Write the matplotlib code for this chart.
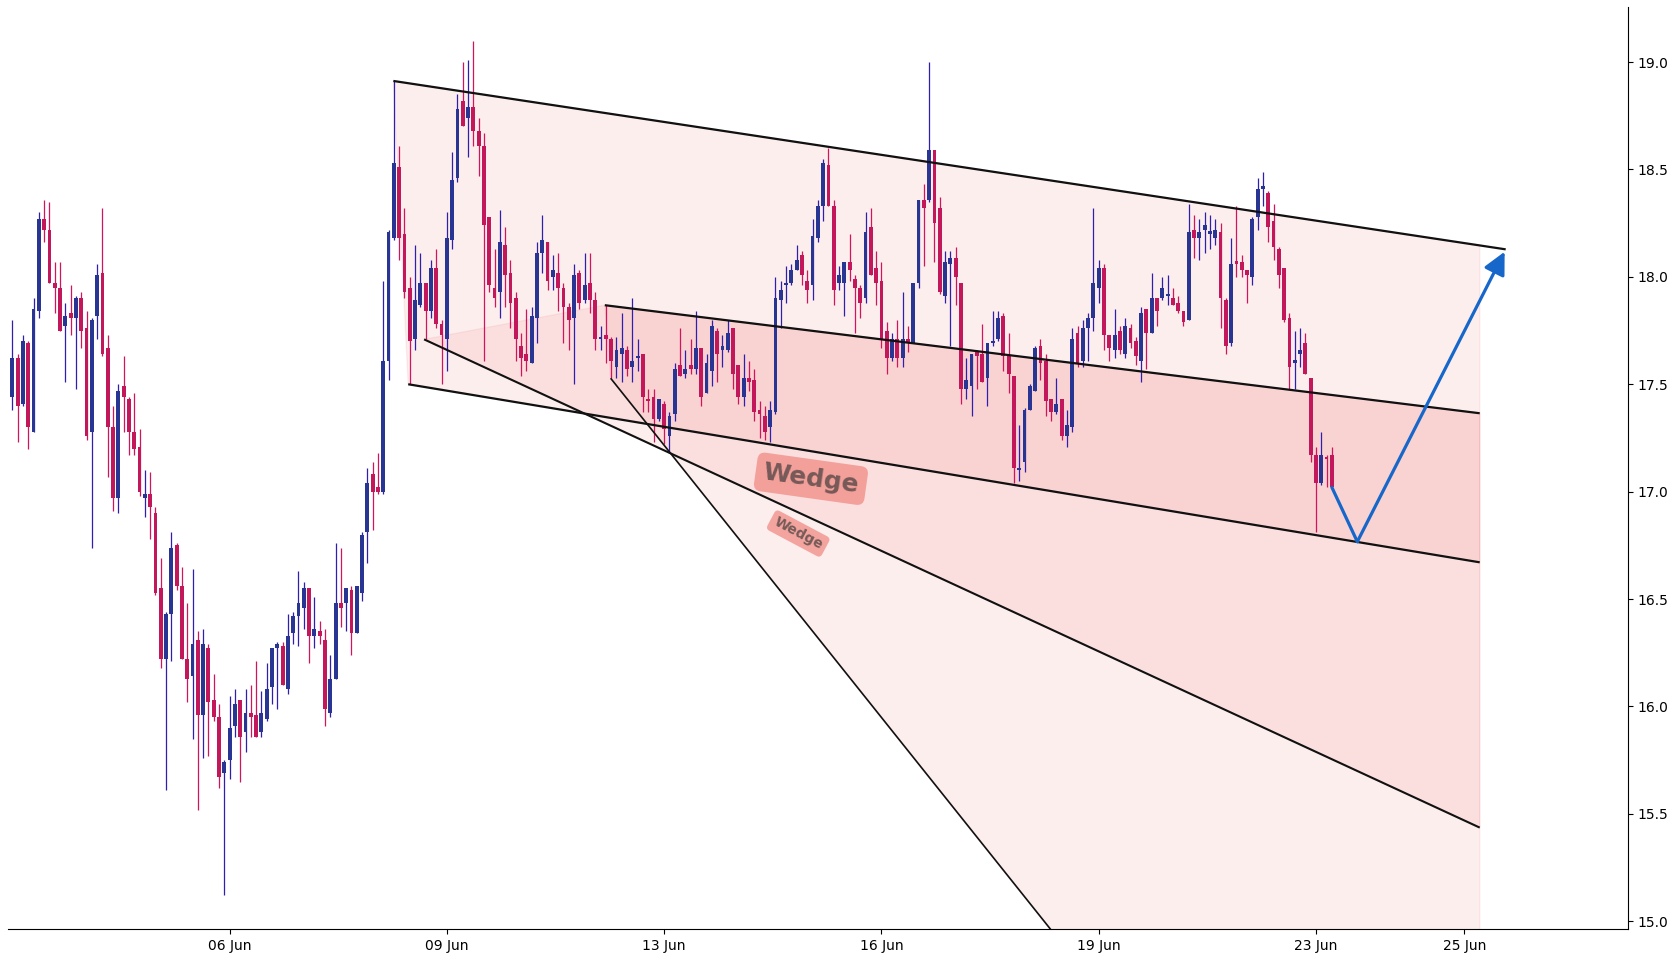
import matplotlib
matplotlib.use('Agg')
from matplotlib import pyplot as plt
from matplotlib.patches import Polygon

# OHLC, one entry per bar (250 bars)
opens = [17.44, 17.62, 17.41, 17.69, 17.28, 17.84, 18.27, 18.22, 17.97, 17.95,
         17.77, 17.83, 17.81, 17.90, 17.76, 17.28, 17.82, 18.02, 17.67, 17.30,
         16.97, 17.49, 17.43, 17.28, 17.21, 16.97, 16.99, 16.90, 16.55, 16.22,
         16.43, 16.75, 16.56, 16.22, 16.14, 16.31, 15.96, 16.27, 16.03, 15.95,
         15.69, 15.75, 15.91, 16.03, 15.88, 15.97, 15.96, 15.88, 15.94, 16.09,
         16.27, 16.28, 16.08, 16.34, 16.42, 16.46, 16.55, 16.33, 16.35, 16.31,
         15.97, 16.13, 16.48, 16.48, 16.54, 16.34, 16.53, 16.81, 17.08, 17.02,
         17.00, 17.61, 18.18, 18.51, 18.20, 17.95, 17.71, 17.87, 17.97, 17.84,
         18.04, 17.78, 17.71, 18.17, 18.46, 18.82, 18.74, 18.79, 18.68, 18.61,
         18.28, 17.95, 17.93, 18.15, 18.02, 17.90, 17.68, 17.64, 17.60, 17.81,
         18.11, 18.16, 18.00, 18.02, 17.95, 17.86, 17.81, 18.02, 17.89, 17.97,
         17.89, 17.71, 17.73, 17.71, 17.58, 17.64, 17.66, 17.58, 17.62, 17.64,
         17.43, 17.44, 17.34, 17.41, 17.26, 17.36, 17.59, 17.55, 17.59, 17.57,
         17.67, 17.46, 17.56, 17.75, 17.66, 17.66, 17.76, 17.59, 17.44, 17.53,
         17.52, 17.38, 17.35, 17.30, 17.37, 17.89, 17.96, 17.97, 18.03, 18.10,
         17.98, 17.96, 18.18, 18.33, 18.52, 18.33, 17.97, 17.97, 18.07, 17.99,
         17.95, 17.90, 18.23, 18.04, 17.98, 17.75, 17.62, 17.71, 17.62, 17.71,
         17.69, 17.97, 18.36, 18.36, 18.59, 18.32, 17.91, 18.06, 18.09, 17.97,
         17.48, 17.49, 17.65, 17.64, 17.53, 17.69, 17.71, 17.82, 17.63, 17.54,
         17.10, 17.14, 17.38, 17.47, 17.68, 17.61, 17.43, 17.37, 17.43, 17.26,
         17.30, 17.74, 17.61, 17.76, 17.81, 17.95, 18.04, 17.73, 17.66, 17.75,
         17.64, 17.76, 17.70, 17.61, 17.85, 17.74, 17.90, 17.90, 17.91, 17.90,
         17.88, 17.84, 17.80, 18.22, 18.18, 18.22, 18.20, 18.18, 18.21, 17.89,
         17.69, 18.07, 18.07, 18.03, 18.00, 18.28, 18.41, 18.39, 18.26, 18.13,
         18.04, 17.81, 17.60, 17.64, 17.69, 17.53, 17.17, 17.04, 17.16, 17.17]
highs = [17.80, 17.64, 17.73, 17.70, 17.90, 18.30, 18.36, 18.35, 18.07, 18.07,
         17.88, 17.96, 17.91, 17.93, 17.84, 17.81, 18.06, 18.32, 17.73, 17.40,
         17.50, 17.63, 17.44, 17.46, 17.29, 17.10, 17.09, 16.93, 16.69, 16.44,
         16.81, 16.76, 16.65, 16.48, 16.64, 16.35, 16.36, 16.29, 16.15, 16.01,
         15.75, 16.05, 16.08, 16.03, 16.08, 16.10, 16.21, 16.07, 16.20, 16.27,
         16.30, 16.30, 16.43, 16.44, 16.63, 16.58, 16.55, 16.51, 16.40, 16.36,
         16.24, 16.76, 16.74, 16.55, 16.56, 16.56, 16.81, 17.11, 17.14, 17.18,
         17.98, 18.22, 18.91, 18.61, 18.32, 18.00, 18.15, 18.11, 17.97, 18.08,
         18.13, 17.80, 18.30, 18.58, 18.85, 19.00, 19.01, 19.10, 18.74, 18.67,
         18.28, 18.13, 18.31, 18.23, 18.08, 17.93, 17.74, 17.85, 17.86, 18.16,
         18.29, 18.16, 18.10, 18.11, 17.97, 17.88, 18.06, 18.03, 18.11, 18.11,
         17.93, 17.77, 17.87, 17.72, 17.72, 17.83, 17.68, 17.90, 17.71, 17.64,
         17.48, 17.48, 17.43, 17.42, 17.37, 17.60, 17.76, 17.66, 17.71, 17.84,
         17.67, 17.64, 17.80, 17.76, 17.73, 17.80, 17.76, 17.59, 17.64, 17.61,
         17.57, 17.42, 17.40, 17.42, 18.00, 17.98, 18.05, 18.06, 18.15, 18.12,
         18.03, 18.27, 18.36, 18.55, 18.60, 18.36, 18.05, 18.07, 18.20, 18.01,
         17.96, 18.30, 18.32, 18.12, 18.07, 17.79, 17.74, 17.80, 17.93, 17.77,
         17.97, 18.36, 18.43, 19.00, 18.59, 18.37, 18.12, 18.12, 18.14, 17.97,
         17.62, 17.64, 17.66, 17.78, 17.69, 17.84, 17.84, 17.83, 17.74, 17.54,
         17.31, 17.39, 17.50, 17.68, 17.71, 17.64, 17.43, 17.53, 17.43, 17.38,
         17.76, 17.77, 17.80, 17.83, 18.32, 18.08, 18.06, 17.73, 17.85, 17.77,
         17.81, 17.78, 17.72, 17.86, 17.85, 18.02, 17.90, 18.00, 18.01, 17.95,
         17.91, 17.84, 18.34, 18.29, 18.27, 18.30, 18.29, 18.27, 18.25, 17.90,
         18.18, 18.33, 18.10, 18.03, 18.28, 18.46, 18.49, 18.40, 18.34, 18.14,
         18.04, 17.83, 17.75, 17.76, 17.74, 17.53, 17.21, 17.28, 17.17, 17.21]
lows = [17.38, 17.23, 17.40, 17.20, 17.28, 17.81, 18.16, 17.97, 17.83, 17.75,
        17.51, 17.73, 17.48, 17.67, 17.24, 16.74, 17.71, 17.63, 17.07, 16.91,
        16.90, 17.28, 17.17, 17.17, 16.98, 16.88, 16.78, 16.52, 16.18, 15.61,
        16.21, 16.54, 16.22, 16.02, 15.85, 15.52, 15.76, 15.77, 15.93, 15.62,
        15.12, 15.66, 15.86, 15.65, 15.79, 15.86, 15.86, 15.86, 15.93, 16.01,
        15.99, 16.10, 16.06, 16.29, 16.28, 16.36, 16.20, 16.27, 16.29, 15.91,
        15.95, 16.13, 16.37, 16.35, 16.24, 16.34, 16.49, 16.67, 16.82, 16.99,
        16.99, 17.52, 18.17, 18.08, 17.90, 17.50, 17.66, 17.86, 17.71, 17.81,
        17.76, 17.50, 17.56, 18.13, 18.44, 18.70, 18.56, 18.61, 18.47, 17.61,
        17.93, 17.86, 17.81, 17.86, 17.76, 17.61, 17.54, 17.56, 17.60, 17.69,
        18.02, 17.94, 17.94, 17.84, 17.69, 17.66, 17.50, 17.85, 17.88, 17.83,
        17.66, 17.66, 17.60, 17.53, 17.53, 17.51, 17.54, 17.51, 17.56, 17.37,
        17.37, 17.23, 17.33, 17.22, 17.18, 17.33, 17.54, 17.53, 17.55, 17.55,
        17.40, 17.46, 17.49, 17.51, 17.58, 17.65, 17.48, 17.41, 17.40, 17.47,
        17.33, 17.25, 17.24, 17.23, 17.36, 17.76, 17.88, 17.96, 18.03, 17.96,
        17.88, 17.89, 18.16, 18.26, 18.33, 17.87, 17.94, 17.82, 17.98, 17.74,
        17.81, 17.88, 18.01, 17.87, 17.67, 17.55, 17.61, 17.58, 17.58, 17.65,
        17.69, 17.95, 18.05, 18.35, 18.07, 17.92, 17.88, 17.68, 17.87, 17.41,
        17.43, 17.35, 17.48, 17.51, 17.40, 17.68, 17.70, 17.56, 17.46, 17.04,
        17.05, 17.09, 17.38, 17.47, 17.52, 17.35, 17.33, 17.36, 17.24, 17.21,
        17.28, 17.58, 17.58, 17.61, 17.75, 17.88, 17.66, 17.61, 17.62, 17.64,
        17.62, 17.67, 17.59, 17.51, 17.57, 17.74, 17.77, 17.89, 17.87, 17.87,
        17.83, 17.77, 17.80, 18.09, 18.08, 18.11, 18.13, 18.15, 17.76, 17.64,
        17.68, 18.00, 18.00, 17.88, 17.96, 18.22, 18.33, 18.16, 18.08, 17.95,
        17.79, 17.48, 17.48, 17.58, 17.55, 17.14, 16.81, 17.03, 17.02, 17.02]
closes = [17.62, 17.40, 17.70, 17.30, 17.85, 18.27, 18.22, 17.97, 17.95, 17.75,
          17.82, 17.81, 17.90, 17.75, 17.26, 17.80, 18.01, 17.64, 17.30, 16.97,
          17.47, 17.44, 17.28, 17.20, 17.00, 16.99, 16.93, 16.53, 16.22, 16.43,
          16.74, 16.56, 16.22, 16.13, 16.29, 15.96, 16.29, 16.02, 15.95, 15.67,
          15.74, 15.90, 16.01, 15.86, 15.97, 15.95, 15.86, 15.97, 16.08, 16.27,
          16.29, 16.10, 16.33, 16.42, 16.48, 16.55, 16.33, 16.36, 16.33, 15.99,
          16.13, 16.48, 16.46, 16.55, 16.34, 16.56, 16.80, 17.04, 17.00, 17.00,
          17.61, 18.21, 18.53, 18.18, 17.93, 17.70, 17.89, 17.97, 17.84, 18.04,
          17.78, 17.73, 18.18, 18.45, 18.78, 18.70, 18.79, 18.68, 18.61, 18.24,
          17.96, 17.90, 18.16, 18.01, 17.88, 17.71, 17.62, 17.61, 17.82, 18.11,
          18.17, 17.98, 18.03, 17.95, 17.86, 17.80, 18.01, 17.88, 17.96, 17.89,
          17.71, 17.72, 17.71, 17.61, 17.66, 17.67, 17.57, 17.61, 17.63, 17.44,
          17.42, 17.34, 17.43, 17.29, 17.35, 17.57, 17.54, 17.57, 17.57, 17.67,
          17.44, 17.60, 17.77, 17.64, 17.68, 17.74, 17.55, 17.44, 17.53, 17.51,
          17.37, 17.36, 17.28, 17.38, 17.90, 17.94, 17.97, 18.03, 18.08, 18.01,
          17.94, 18.19, 18.33, 18.53, 18.33, 17.94, 18.01, 18.07, 18.03, 17.95,
          17.88, 18.21, 18.01, 17.97, 17.71, 17.62, 17.71, 17.62, 17.71, 17.69,
          17.97, 18.36, 18.32, 18.59, 18.25, 17.93, 18.07, 18.09, 18.00, 17.48,
          17.52, 17.64, 17.63, 17.51, 17.69, 17.70, 17.81, 17.63, 17.55, 17.11,
          17.11, 17.38, 17.49, 17.67, 17.60, 17.42, 17.37, 17.41, 17.26, 17.31,
          17.71, 17.60, 17.76, 17.81, 17.97, 18.04, 17.73, 17.67, 17.73, 17.66,
          17.77, 17.69, 17.63, 17.83, 17.74, 17.90, 17.84, 17.95, 17.92, 17.87,
          17.84, 17.79, 18.21, 18.18, 18.21, 18.24, 18.21, 18.22, 17.90, 17.68,
          18.06, 18.06, 18.03, 18.01, 18.27, 18.41, 18.42, 18.23, 18.14, 18.01,
          17.80, 17.58, 17.61, 17.66, 17.55, 17.17, 17.04, 17.17, 17.15, 17.02]

tick_pos = [41, 82, 123, 164, 205, 246, 274]
tick_labels = ['06 Jun', '09 Jun', '13 Jun', '16 Jun', '19 Jun', '23 Jun', '25 Jun']

# drawn trend lines: (bar, price) endpoints
top_line = [(71.9, 18.912), (281.8, 18.128)]
low_line = [(74.7, 17.500), (276.9, 16.671)]
mid_line = [(111.8, 17.868), (276.9, 17.365)]
fan_line = [(77.7, 17.709), (276.9, 15.436)]
steep_line = [(112.9, 17.528), (276.9, 12.46)]
proj_path = [(249, 17.02), (253.8, 16.767), (281.6, 18.117)]

up_body, up_wick = '#283593', '#2e1fae'
dn_body, dn_wick = '#c2185b', '#d2145e'
fill_col = '#f07f7f'

fig = plt.figure(figsize=(16.8, 9.6), dpi=100)
ax = fig.add_axes([0.0045, 0.0323, 0.9643, 0.9599])

for i in range(len(opens)):
    o, h, l, c = opens[i], highs[i], lows[i], closes[i]
    up = c >= o
    ax.vlines(i, l, h, color=up_wick if up else dn_wick, lw=0.9, zorder=3)
    ax.bar(i, max(abs(c - o), 0.012), bottom=min(o, c), width=0.72,
           color=up_body if up else dn_body, zorder=4, linewidth=0)


def line_at(line, x):
    (x0, y0), (x1, y1) = line
    return y0 + (y1 - y0) * (x - x0) / (x1 - x0)


x_end = low_line[1][0]
fills = [
    [top_line[0], (x_end, line_at(top_line, x_end)), low_line[1], low_line[0]],
    [fan_line[0], mid_line[0], mid_line[1], fan_line[1]],
    [steep_line[0], mid_line[0], mid_line[1], steep_line[1]],
]
for pts in fills:
    ax.add_patch(Polygon(pts, closed=True, facecolor=fill_col, edgecolor=fill_col,
                         alpha=0.13, lw=1, zorder=1))

for line, lw in [(top_line, 1.6), (low_line, 1.6), (mid_line, 1.6),
                 (fan_line, 1.5), (steep_line, 1.2)]:
    ax.plot([line[0][0], line[1][0]], [line[0][1], line[1][1]],
            color='#111111', lw=lw, zorder=5, solid_capstyle='butt')

blue = '#1667c9'
ax.plot([proj_path[0][0], proj_path[1][0]], [proj_path[0][1], proj_path[1][1]],
        color=blue, lw=2.3, zorder=6, solid_capstyle='round')
ax.annotate('', xy=proj_path[2], xytext=proj_path[1],
            arrowprops=dict(arrowstyle='-|>,head_length=0.9,head_width=0.45',
                            color=blue, lw=2.3, shrinkA=0, shrinkB=0,
                            mutation_scale=15),
            zorder=6)

ax.text(150.7, 17.06, 'Wedge', fontsize=18, fontweight='bold', color='#333333',
        alpha=0.65, rotation=-8, ha='center', va='center', zorder=7,
        bbox=dict(boxstyle='round,pad=0.3', fc='#f0857d', ec='none', alpha=0.7))
ax.text(148.3, 16.805, 'Wedge', fontsize=10, fontweight='bold', color='#333333',
        alpha=0.65, rotation=-28, ha='center', va='center', zorder=7,
        bbox=dict(boxstyle='round,pad=0.3', fc='#f0857d', ec='none', alpha=0.7))

ax.set_xlim(-0.9, 304.8)
ax.set_ylim(14.964, 19.254)
ax.set_xticks(tick_pos)
ax.set_xticklabels(tick_labels)
ax.set_yticks([15.0, 15.5, 16.0, 16.5, 17.0, 17.5, 18.0, 18.5, 19.0])
ax.yaxis.tick_right()
ax.spines['left'].set_visible(False)
ax.spines['top'].set_visible(False)
ax.tick_params(labelsize=10)

fig.savefig('out.png', dpi=100)
